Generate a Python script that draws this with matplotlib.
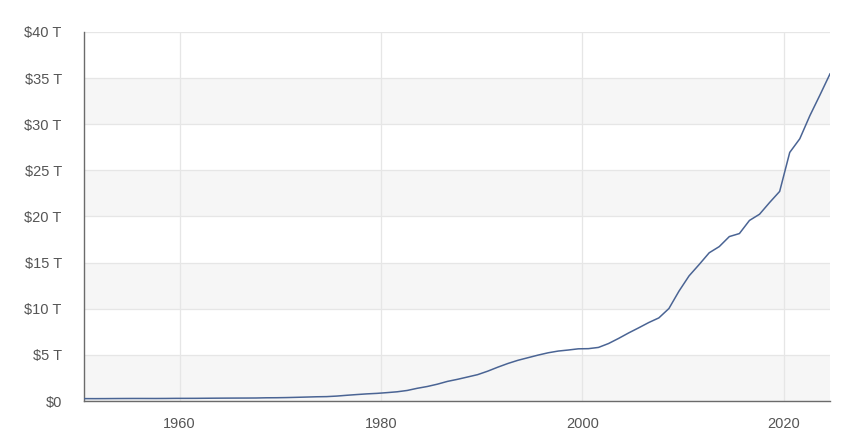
import matplotlib
matplotlib.use("Agg")
import matplotlib.pyplot as plt
from matplotlib.ticker import FuncFormatter

years = list(range(1950, 2025))
debt_trillions = [
    0.257, 0.255, 0.259, 0.266, 0.271, 0.274, 0.273, 0.271, 0.276, 0.285,  # 1950s
    0.286, 0.289, 0.298, 0.306, 0.312, 0.317, 0.320, 0.326, 0.348, 0.354,  # 1960s
    0.371, 0.398, 0.427, 0.458, 0.475, 0.533, 0.620, 0.699, 0.772, 0.827,  # 1970s
    0.908, 0.998, 1.142, 1.377, 1.572, 1.823, 2.125, 2.350, 2.602, 2.857,  # 1980s
    3.233, 3.665, 4.065, 4.411, 4.693, 4.974, 5.225, 5.413, 5.526, 5.656,  # 1990s
    5.674, 5.807, 6.228, 6.783, 7.379, 7.933, 8.507, 9.008, 10.025, 11.910,  # 2000s
    13.562, 14.790, 16.066, 16.738, 17.824, 18.151, 19.573, 20.245, 21.516, 22.719,  # 2010s
    26.945, 28.429, 30.929, 33.167, 35.460,  # 2020s
]
x_ticks = [1960, 1980, 2000, 2020]
y_ticks = [0, 5, 10, 15, 20, 25, 30, 35, 40]

# points sit a little past the year mark, like the original
x = [y + 0.6 for y in years]

plt.rcParams["font.family"] = ["Liberation Sans", "DejaVu Sans"]

fig = plt.figure(figsize=(8.48, 4.41), dpi=100)
ax = fig.add_axes([84 / 848, 1 - 401 / 441, (830 - 84) / 848, (401 - 32) / 441])

# alternating bands
for i in range(0, len(y_ticks) - 1, 2):
    ax.axhspan(y_ticks[i], y_ticks[i + 1], color="#f6f6f6", zorder=0, lw=0)

ax.plot(x, debt_trillions, color="#4a6494", lw=1.1, zorder=3)

ax.set_xlim(x[0] - 0.1, x[-1])
ax.set_ylim(0, 40)
ax.set_xticks(x_ticks)
ax.set_yticks(y_ticks)
ax.yaxis.set_major_formatter(FuncFormatter(lambda v, p: "$0" if v == 0 else f"${v:.0f} T"))

ax.grid(True, color="#e6e6e6", lw=0.9, zorder=1)
ax.set_axisbelow(True)
for s in ["top", "right"]:
    ax.spines[s].set_visible(False)
ax.spines["left"].set_color("#6b6b6b")
ax.spines["bottom"].set_color("#6b6b6b")
ax.spines["left"].set_linewidth(1.0)
ax.spines["bottom"].set_linewidth(1.0)

ax.tick_params(axis="both", length=0, colors="#555555", labelsize=10.5)
ax.tick_params(axis="y", pad=16)
ax.tick_params(axis="x", pad=11.5)

fig.savefig("out.png", dpi=100)
